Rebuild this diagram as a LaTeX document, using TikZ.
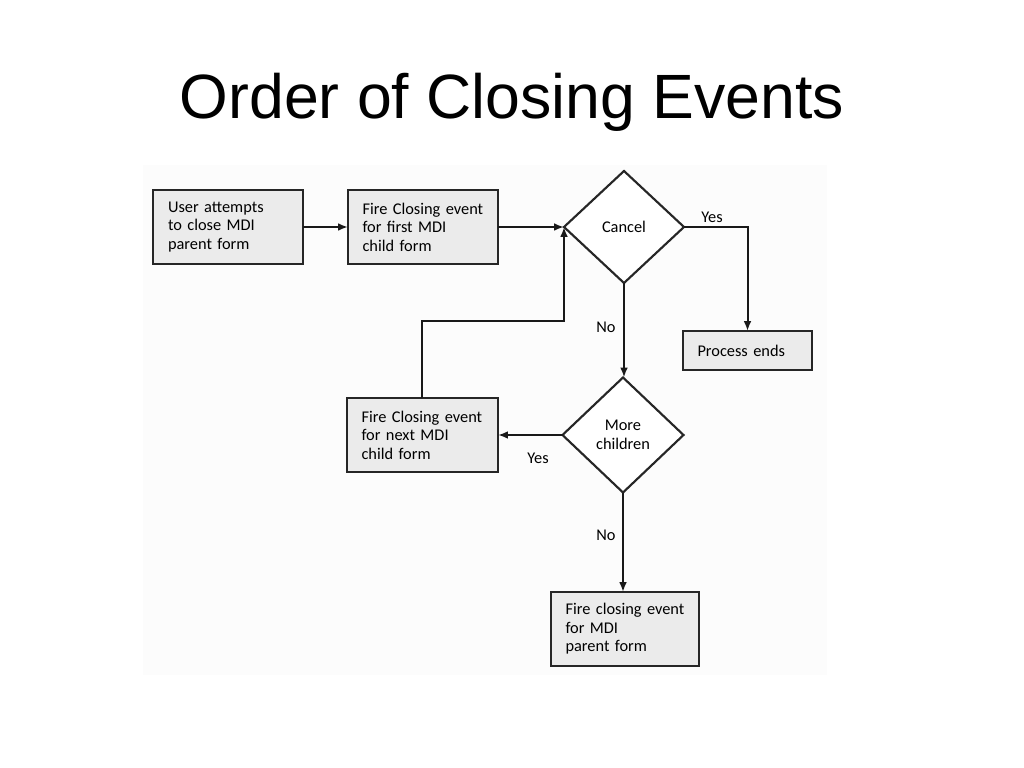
\documentclass[tikz,border=0pt]{standalone}
\usepackage{fontspec}
\setmainfont{Liberation Sans}
\newfontfamily\diagfont{Carlito}
\usetikzlibrary{shapes.geometric,arrows.meta}
\begin{document}
\begin{tikzpicture}[x=0.703125pt,y=-0.703125pt,
  every node/.style={inner sep=0pt, outer sep=0pt},
  boxnode/.style={draw=black!85, line width=1.9pt, fill=black!8, rectangle, anchor=north west,
     font=\diagfont\fontsize{11.5}{13}\selectfont, align=left, inner xsep=10.2pt},
  decision/.style={draw=black!85, line width=1.5pt, diamond, fill=white,
     font=\diagfont\fontsize{11.5}{13}\selectfont, align=center},
  conn/.style={draw=black!90, line width=1.4pt},
  arr/.style={conn, -{Latex[length=7pt,width=5.5pt]}},
  lbl/.style={font=\diagfont\fontsize{11.5}{13}\selectfont}]
\useasboundingbox (0,0) rectangle (1024,768);
\fill[white] (0,0) rectangle (1024,768);
\fill[black!1.2] (143,165) rectangle (827,675);
\node[font=\fontsize{44}{50}\selectfont, anchor=base] (title) at (512,119) {Order of Closing Events};
% boxes
\node[boxnode, minimum width=150*0.703125pt, minimum height=74*0.703125pt, text width=120*0.703125pt] (user) at (153,190) {User attempts\\to close MDI\\parent form};
\node[boxnode, minimum width=149*0.703125pt, minimum height=74*0.703125pt, text width=121*0.703125pt] (first) at (348,190) {Fire Closing event\\for first MDI\\child form};
\node[decision, minimum width=120*0.703125pt, minimum height=112*0.703125pt] (cancel) at (624,227) {Cancel};
\node[boxnode, minimum width=128*0.703125pt, minimum height=39*0.703125pt, text width=100*0.703125pt] (ends) at (683,331) {Process ends};
\node[decision, minimum width=121*0.703125pt, minimum height=115*0.703125pt] (more) at (623,435) {More\\children};
\node[boxnode, minimum width=150*0.703125pt, minimum height=74*0.703125pt, text width=122*0.703125pt] (next) at (347,398) {Fire Closing event\\for next MDI\\child form};
\node[boxnode, minimum width=147*0.703125pt, minimum height=74*0.703125pt, text width=119*0.703125pt] (parent) at (551,592) {Fire closing event\\for MDI\\parent form};
\coordinate (loopA) at (422,321);
\coordinate (loopB) at (564,321);
% connectors
\draw[arr] (user.east) -- (first.west);
\draw[arr] (first.east) -- (first.east -| cancel.west);
\draw[arr] (cancel.east) -| (ends.north);
\draw[arr] (cancel.south) -- (cancel.south |- more.north);
\draw[arr] (more.west) -- (next.east);
\draw[arr] (more.south) -- (parent.north -| more.south);
\draw[arr] (next.north -| loopA) -- (loopA) -- (loopB) -- (cancel.west -| loopB);
% labels
\node[lbl] (yes1) at (712,217) {Yes};
\node[lbl] (no1) at (606,327) {No};
\node[lbl] (yes2) at (538,458) {Yes};
\node[lbl] (no2) at (606,535) {No};
\end{tikzpicture}
\end{document}
